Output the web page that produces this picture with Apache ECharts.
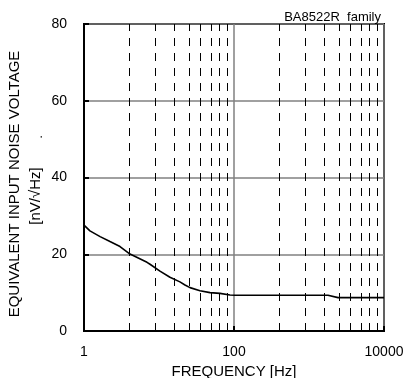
<!DOCTYPE html>
<html>
<head>
<meta charset="utf-8">
<script src="https://cdn.jsdelivr.net/npm/echarts@6/dist/echarts.min.js"></script>
<style>
  html, body { margin: 0; padding: 0; background: #fff; }
  #chart { width: 403px; height: 378px; }
</style>
</head>
<body>
<div id="chart"></div>
<script>
// frequency [Hz] as labelled on the axis, and noise [nV/√Hz]
var freq = [1, 1.2, 1.64, 2.22, 3.02, 3.98, 6.92, 7.59, 10.3, 14.0, 19.0, 22.2, 25.9, 35.2, 47.9, 65.1, 88.4, 103, 1790, 2440, 10000];
var noise = [27.6, 26.1, 24.6, 23.3, 22.0, 20.2, 17.9, 17.4, 15.6, 14.0, 12.8, 12.0, 11.3, 10.5, 10.0, 9.8, 9.4, 9.3, 9.3, 8.7, 8.7];
// dashed minor grid lines (x values)
var minorGrid = [4, 9, 16, 25, 36, 49, 64, 81, 400, 900, 1600, 2500, 3600, 4900, 6400, 8100];
var yTicks = [0, 20, 40, 60, 80];

var font = '"Liberation Sans", Arial, sans-serif';
var chart = echarts.init(document.getElementById('chart'));

var points = freq.map(function (f, i) { return [f, noise[i]]; });

chart.setOption({
  animation: false,
  grid: {
    left: 84, right: 19, top: 24, bottom: 47,
    outerBoundsMode: 'none',
    show: true,
    borderColor: '#000',
    borderWidth: 2
  },
  title: {
    text: 'BA8522R  family',
    right: 17, top: 6,
    textStyle: { fontFamily: font, fontSize: 13, fontWeight: 'normal', color: '#000' }
  },
  xAxis: {
    type: 'log',
    logBase: 100,
    min: 1,
    max: 10000,
    name: 'FREQUENCY [Hz]',
    nameLocation: 'middle',
    nameGap: 31,
    nameTextStyle: { fontFamily: font, fontSize: 15, color: '#000' },
    axisLine: { lineStyle: { color: '#000', width: 2 } },
    axisTick: { inside: true, length: 5, lineStyle: { color: '#000', width: 2 } },
    axisLabel: {
      fontFamily: font, fontSize: 14, color: '#000', margin: 14,
      formatter: function (v) { return String(Math.round(v)); }
    },
    splitLine: { show: true, lineStyle: { color: '#808080', width: 1.5 } },
    minorTick: { show: false },
    minorSplitLine: { show: false }
  },
  yAxis: {
    type: 'value',
    min: yTicks[0],
    max: yTicks[yTicks.length - 1],
    interval: 20,
    axisLine: { show: true, lineStyle: { color: '#000', width: 2 } },
    axisTick: { show: true, inside: true, length: 5, lineStyle: { color: '#000', width: 2 } },
    axisLabel: { fontFamily: font, fontSize: 14, color: '#000', margin: 17 },
    splitLine: { show: true, lineStyle: { color: '#808080', width: 1.5 } }
  },
  graphic: [
    {
      type: 'text', x: 15, y: 184, rotation: Math.PI / 2,
      style: { text: 'EQUIVALENT INPUT NOISE VOLTAGE', fontFamily: font, fontSize: 15, fill: '#000', align: 'center', verticalAlign: 'middle' }
    },
    {
      type: 'text', x: 36, y: 196, rotation: Math.PI / 2,
      style: { text: '[nV/√Hz]', fontFamily: font, fontSize: 15, fill: '#000', align: 'center', verticalAlign: 'middle' }
    },
    {
      type: 'text', x: 38, y: 137, rotation: Math.PI / 2,
      style: { text: '.', fontFamily: font, fontSize: 13, fill: '#000', align: 'center', verticalAlign: 'middle' }
    }
  ],
  series: [
    {
      type: 'line',
      data: points,
      showSymbol: false,
      smooth: false,
      lineStyle: { color: '#000', width: 1.6 },
      z: 5,
      markLine: {
        silent: true,
        symbol: 'none',
        label: { show: false },
        lineStyle: { color: '#000', width: 1, type: [8, 7] },
        data: minorGrid.map(function (v) { return { xAxis: v }; })
      }
    }
  ]
});
</script>
</body>
</html>
